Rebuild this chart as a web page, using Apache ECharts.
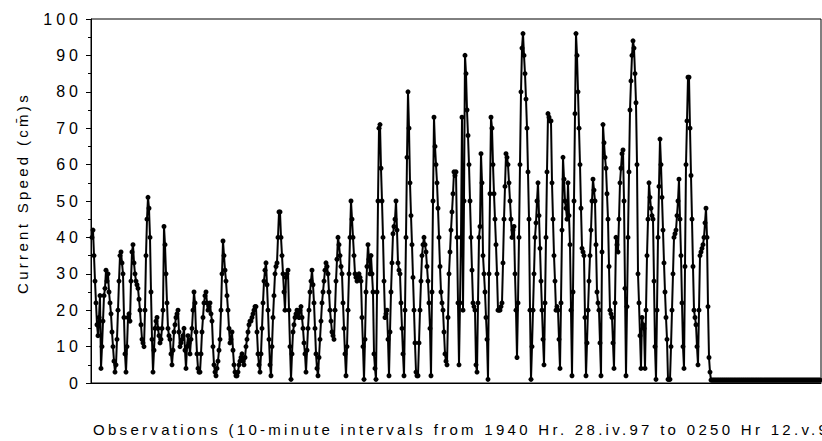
<!DOCTYPE html>
<html><head><meta charset="utf-8">
<script src="https://cdn.jsdelivr.net/npm/echarts@6/dist/echarts.min.js"></script>
<style>
html,body{margin:0;padding:0;background:#fff;}
#chart{width:822px;height:441px;}
#chart text{letter-spacing:3.3px;}
#chart text[text-anchor="end"]{letter-spacing:4px;}
</style></head><body><div id="chart"></div>
<script>
// y-axis tick labels
const yTicks = [0,10,20,30,40,50,60,70,80,90,100];
// current speed (cm/s), consecutive observations, active record
const speedActive = [
40,42,35,28,22,16,13,18,24,4,
10,17,24,26,31,28,30,25,22,19,
14,10,6,3,5,12,20,28,35,36,
33,30,18,8,3,10,18,19,17,28,
36,38,33,30,28,27,26,23,20,16,
12,11,10,20,35,45,51,48,40,25,
12,3,9,15,17,18,15,13,11,12,
15,20,43,38,30,22,15,13,12,8,
5,9,14,16,18,19,20,14,10,11,
12,13,15,9,4,10,13,11,8,12,
15,20,25,22,14,8,4,3,3,8,
14,18,22,24,25,22,20,21,22,19,
17,10,5,3,2,4,6,9,12,20,
30,39,35,31,28,24,20,15,11,12,
14,9,5,3,2,2,3,5,6,7,
8,6,5,7,10,12,14,16,17,17,
18,19,20,21,21,14,8,5,3,8,
15,22,28,31,33,27,20,12,5,2,
10,18,24,30,32,33,40,47,47,40,
35,30,25,20,29,30,31,20,10,1,
8,14,16,18,19,20,19,18,20,21,
18,15,11,8,3,9,15,20,25,28,
31,27,22,15,8,4,2,7,12,17,
22,25,28,31,33,32,30,25,20,17,
14,13,12,20,28,34,40,38,35,32,
30,22,15,8,2,10,20,30,40,50,
45,40,35,30,29,28,29,30,29,28,
18,10,1,12,25,32,38,34,30,35,
30,25,8,4,1,25,50,70,71,59,
50,40,28,18,19,20,12,2,14,25,
33,41,43,45,50,42,33,31,30,22,
15,8,2,20,40,62,80,70,55,46,
38,29,20,11,3,2,2,11,20,28,
35,38,40,38,36,32,28,22,15,2,
25,50,73,65,60,55,48,40,32,25,
22,20,14,8,6,5,18,30,36,42,
47,52,58,57,58,40,22,5,22,40,
73,20,50,90,85,75,68,60,50,40,
31,22,21,20,5,3,22,40,43,63,
55,35,30,25,18,12,1,30,52,73,
70,60,52,45,38,30,20,20,20,21,
22,33,45,54,63,62,60,55,50,45,
40,42,43,30,20,7,22,40,60,80,
92,96,90,85,78,70,58,45,20,1,
10,20,30,40,44,50,55,46,37,28,
20,12,5,22,40,58,74,73,72,72,
55,45,35,28,20,21,20,12,4,22,
42,62,56,50,48,45,55,46,38,20,
2,25,50,74,96,90,80,70,60,48,
37,36,35,18,2,11,20,28,35,42,
50,56,53,50,38,25,22,20,11,2,
36,71,66,62,59,52,45,32,20,19,
18,11,4,22,40,38,36,45,55,59,
63,64,50,26,2,21,40,58,75,83,
90,94,92,85,77,60,30,22,13,4,
18,16,15,4,20,35,45,55,51,48,
46,45,28,10,1,20,40,54,67,60,
51,42,33,25,18,12,1,1,1,10,
20,30,40,41,42,46,50,56,45,35,
22,10,4,32,60,72,84,84,70,57,
45,32,20,18,16,10,5,20,35,36,
37,38,40,44,48,40,21,7,3
];
// end of record: speed stays near zero
const speedTail = [
0.8,0.8,0.8,0.8,0.8,0.8,0.8,0.8,0.8,0.8,
0.8,0.8,0.8,0.8,0.8,0.8,0.8,0.8,0.8,0.8,
0.8,0.8,0.8,0.8,0.8,0.8,0.8,0.8,0.8,0.8,
0.8,0.8,0.8,0.8,0.8,0.8,0.8,0.8,0.8,0.8,
0.8,0.8,0.8,0.8,0.8,0.8,0.8,0.8,0.8,0.8,
0.8,0.8,0.8,0.8,0.8,0.8,0.8,0.8,0.8,0.8,
0.8,0.8,0.8,0.8,0.8,0.8,0.8,0.8,0.8,0.8,
0.8,0.8,0.8,0.8,0.8,0.8,0.8,0.8,0.8,0.8,
0.8,0.8,0.8,0.8,0.8,0.8,0.8,0.8,0.8,0.8,
0.8,0.8,0.8,0.8,0.8,0.8,0.8,0.8,0.8,0.8,
0.8,0.8,0.8,0.8,0.8,0.8,0.8,0.8,0.8,0.8
];
const xTitle = 'Observations (10-minute intervals from 1940 Hr. 28.iv.97 to 0250 Hr 12.v.97)';
const yTitle = 'Current Speed (cm\u0304)s';

const speeds = speedActive.concat(speedTail);
const FONT = '"Liberation Sans", Arial, sans-serif';
const chart = echarts.init(document.getElementById('chart'), null, {renderer: 'svg'});
chart.setOption({
  animation: false,
  backgroundColor: '#fff',
  textStyle: {fontFamily: FONT},
  grid: {left: 91, top: 19, width: 730, height: 364, show: true, borderColor: '#000', borderWidth: 1, backgroundColor: 'transparent'},
  xAxis: {
    type: 'value', min: 0, max: 730,
    axisLine: {show: true, lineStyle: {color: '#000', width: 1}},
    axisTick: {show: false}, axisLabel: {show: false}, splitLine: {show: false}
  },
  yAxis: {
    type: 'value', min: yTicks[0], max: yTicks[yTicks.length - 1], interval: 10,
    axisLine: {show: true, lineStyle: {color: '#000', width: 1}},
    axisTick: {show: true, length: 5, lineStyle: {color: '#000'}},
    minorTick: {show: true, splitNumber: 2, length: 3, lineStyle: {color: '#000'}},
    axisLabel: {color: '#000', fontSize: 16, margin: 9, fontFamily: FONT},
    splitLine: {show: false}
  },
  series: [{
    type: 'line',
    data: speeds.map((v, i) => [i + 1, v]),
    showAllSymbol: true,
    symbol: 'circle', symbolSize: 5,
    lineStyle: {color: '#000', width: 2},
    itemStyle: {color: '#000'},
    emphasis: {disabled: true},
    clip: true
  }],
  graphic: [
    {type: 'text', x: 93, y: 429, style: {text: xTitle, fill: '#000', font: '15px ' + FONT, textAlign: 'left', textVerticalAlign: 'middle'}},
    {type: 'text', x: 22.5, y: 193, rotation: Math.PI / 2, style: {text: yTitle, fill: '#000', font: '15px ' + FONT, textAlign: 'center', textVerticalAlign: 'middle'}}
  ]
});
</script></body></html>
